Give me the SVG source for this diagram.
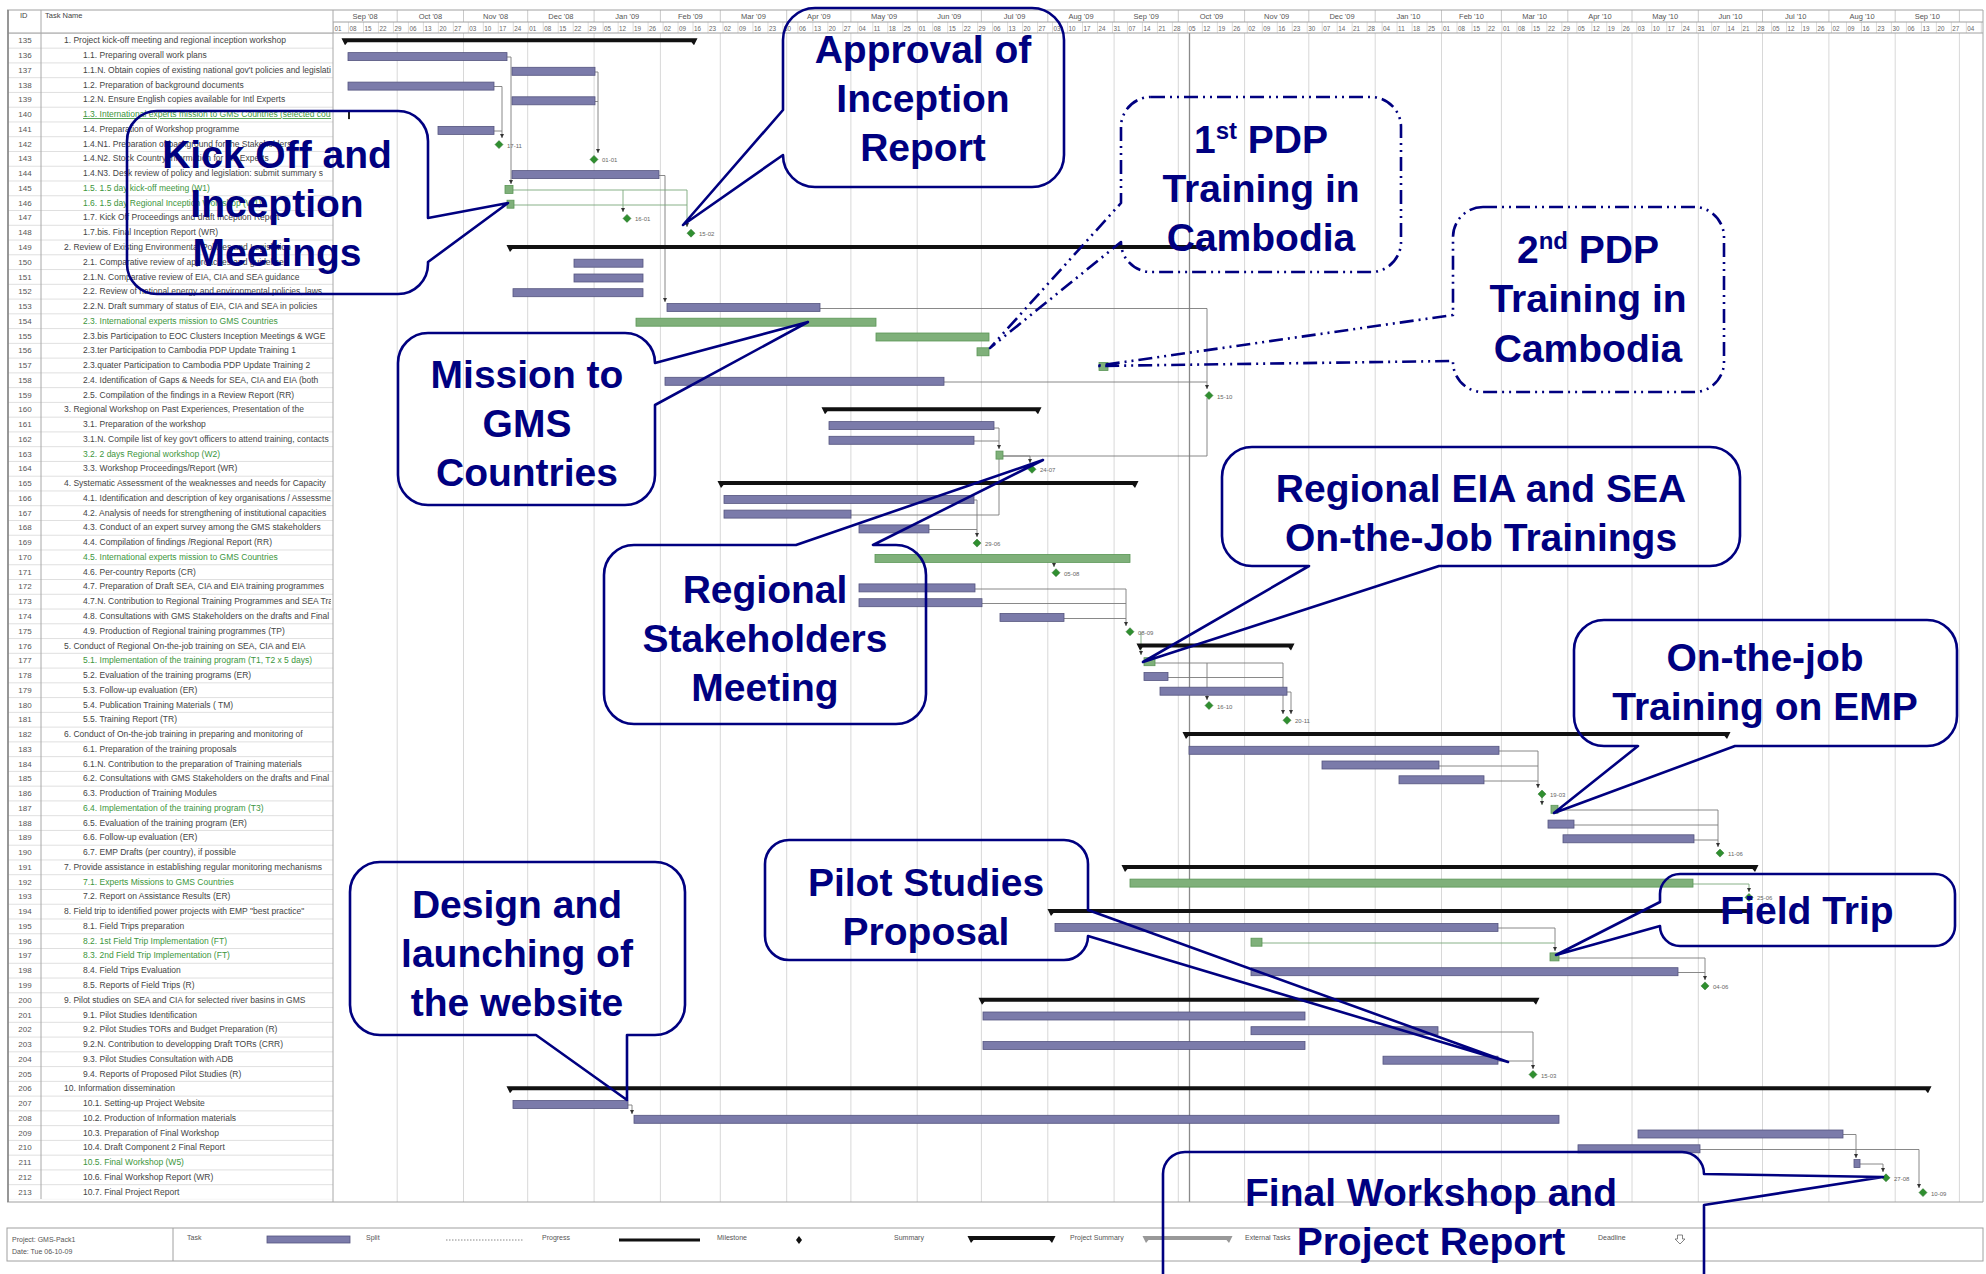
<svg xmlns="http://www.w3.org/2000/svg" xmlns:xlink="http://www.w3.org/1999/xlink" width="1986" height="1274" viewBox="0 0 1986 1274">
<defs>
<style>
text{font-family:"Liberation Sans",Arial,sans-serif}
.id{font-size:8px;fill:#555;text-anchor:middle}
.tn{font-size:8.5px;fill:#444;clip-path:url(#nc)}
.gr{fill:#3c963c}
.hd{font-size:7.5px;fill:#444}
.mo{font-size:7.5px;fill:#555;text-anchor:middle}
.dy{font-size:6.3px;fill:#666}
.bar{fill:#7b7baa;stroke:#55557f;stroke-width:0.8}
.gbar{fill:#7fb07a;stroke:#5a9656;stroke-width:0.8}
.sum{fill:#111}
.ml{font-size:6px;fill:#666}
.lnk{fill:none;stroke:#7c7c7c;stroke-width:0.9}
.glk{fill:none;stroke:#7aa87a;stroke-width:0.9}
.co{fill:none;stroke:#000080;stroke-width:2.6;stroke-linejoin:round}
.dd{stroke-dasharray:14 5 2 5 2 5}
.ct{font-size:39px;font-weight:bold;fill:#000080;text-anchor:middle}
.lg{font-size:7px;fill:#555}
</style>
<clipPath id="nc" clipPathUnits="userSpaceOnUse"><rect x="41" y="-8" width="290" height="16"/></clipPath>
<pattern id="rl" x="0" y="32.9" width="20" height="14.76" patternUnits="userSpaceOnUse"><rect width="20" height="0.7" fill="#d2d2d2"/></pattern>
<pattern id="wk" x="333" y="22" width="14.98" height="11" patternUnits="userSpaceOnUse"><rect width="0.6" height="11" fill="#c4c4c4"/></pattern>
<marker id="ah" viewBox="0 0 6 6" refX="6" refY="3" markerWidth="5" markerHeight="5" orient="auto"><path d="M0,0L6,3L0,6Z" fill="#333"/></marker>
<path id="ms" d="M0,-4L4,0L0,4L-4,0Z" fill="#2f8f2f" stroke="#246b24" stroke-width="0.5"/>
</defs>

<rect width="1986" height="1274" fill="#fff"/>

<!-- table frame and timescale -->
<g id="frame">
<rect x="8" y="32.9" width="325" height="1166.3" fill="url(#rl)"/>
<rect x="333" y="22" width="1650" height="11" fill="url(#wk)"/>
<path d="M397.2,33V1202M463.5,33V1202M527.7,33V1202M594.1,33V1202M660.4,33V1202M720.3,33V1202M786.7,33V1202M850.9,33V1202M917.2,33V1202M981.4,33V1202M1047.8,33V1202M1114.1,33V1202M1178.3,33V1202M1244.6,33V1202M1308.8,33V1202M1375.2,33V1202M1441.5,33V1202M1501.4,33V1202M1567.8,33V1202M1632,33V1202M1698.3,33V1202M1762.5,33V1202M1828.9,33V1202M1895.2,33V1202M1959.4,33V1202" stroke="#d8d8d8" stroke-width="1" fill="none"/>
<path d="M397.2,10V22M463.5,10V22M527.7,10V22M594.1,10V22M660.4,10V22M720.3,10V22M786.7,10V22M850.9,10V22M917.2,10V22M981.4,10V22M1047.8,10V22M1114.1,10V22M1178.3,10V22M1244.6,10V22M1308.8,10V22M1375.2,10V22M1441.5,10V22M1501.4,10V22M1567.8,10V22M1632,10V22M1698.3,10V22M1762.5,10V22M1828.9,10V22M1895.2,10V22M1959.4,10V22" stroke="#bbb" stroke-width="0.8" fill="none"/>
<path d="M1189.5,33V1202" stroke="#8a8a8a" stroke-width="1.3"/>
<path d="M7,10H1983M333,22H1983M8,33H1983M7,1202H1983" stroke="#a0a0a0" stroke-width="1" fill="none"/>
<path d="M8,10V1202M41,10V1199M333,10V1202M1983,10V1202" stroke="#a8a8a8" stroke-width="1" fill="none"/>
<path d="M8,10V1202" stroke="#888" stroke-width="1.6"/>
<text class="hd" x="20" y="18">ID</text>
<text class="hd" x="45" y="18">Task Name</text>
<g class="mo">
<text x="365.1" y="19">Sep '08</text><text x="430.4" y="19">Oct '08</text><text x="495.6" y="19">Nov '08</text><text x="560.9" y="19">Dec '08</text><text x="627.3" y="19">Jan '09</text><text x="690.4" y="19">Feb '09</text><text x="753.5" y="19">Mar '09</text><text x="818.8" y="19">Apr '09</text><text x="884.1" y="19">May '09</text><text x="949.3" y="19">Jun '09</text><text x="1014.6" y="19">Jul '09</text><text x="1081" y="19">Aug '09</text><text x="1146.2" y="19">Sep '09</text><text x="1211.5" y="19">Oct '09</text><text x="1276.7" y="19">Nov '09</text><text x="1342" y="19">Dec '09</text><text x="1408.4" y="19">Jan '10</text><text x="1471.5" y="19">Feb '10</text><text x="1534.6" y="19">Mar '10</text><text x="1599.9" y="19">Apr '10</text><text x="1665.2" y="19">May '10</text><text x="1730.4" y="19">Jun '10</text><text x="1795.7" y="19">Jul '10</text><text x="1862.1" y="19">Aug '10</text><text x="1927.3" y="19">Sep '10</text>
</g>
<text class="dy" y="30.5"><tspan x="334.5">01</tspan><tspan x="349.5">08</tspan><tspan x="364.5">15</tspan><tspan x="379.4">22</tspan><tspan x="394.4">29</tspan><tspan x="409.4">06</tspan><tspan x="424.4">13</tspan><tspan x="439.4">20</tspan><tspan x="454.3">27</tspan><tspan x="469.3">03</tspan><tspan x="484.3">10</tspan><tspan x="499.3">17</tspan><tspan x="514.3">24</tspan><tspan x="529.2">01</tspan><tspan x="544.2">08</tspan><tspan x="559.2">15</tspan><tspan x="574.2">22</tspan><tspan x="589.2">29</tspan><tspan x="604.1">05</tspan><tspan x="619.1">12</tspan><tspan x="634.1">19</tspan><tspan x="649.1">26</tspan><tspan x="664.1">02</tspan><tspan x="679">09</tspan><tspan x="694">16</tspan><tspan x="709">23</tspan><tspan x="724">02</tspan><tspan x="739">09</tspan><tspan x="753.9">16</tspan><tspan x="768.9">23</tspan><tspan x="783.9">30</tspan><tspan x="798.9">06</tspan><tspan x="813.9">13</tspan><tspan x="828.8">20</tspan><tspan x="843.8">27</tspan><tspan x="858.8">04</tspan><tspan x="873.8">11</tspan><tspan x="888.8">18</tspan><tspan x="903.7">25</tspan><tspan x="918.7">01</tspan><tspan x="933.7">08</tspan><tspan x="948.7">15</tspan><tspan x="963.7">22</tspan><tspan x="978.6">29</tspan><tspan x="993.6">06</tspan><tspan x="1008.6">13</tspan><tspan x="1023.6">20</tspan><tspan x="1038.6">27</tspan><tspan x="1053.5">03</tspan><tspan x="1068.5">10</tspan><tspan x="1083.5">17</tspan><tspan x="1098.5">24</tspan><tspan x="1113.5">31</tspan><tspan x="1128.4">07</tspan><tspan x="1143.4">14</tspan><tspan x="1158.4">21</tspan><tspan x="1173.4">28</tspan><tspan x="1188.4">05</tspan><tspan x="1203.3">12</tspan><tspan x="1218.3">19</tspan><tspan x="1233.3">26</tspan><tspan x="1248.3">02</tspan><tspan x="1263.3">09</tspan><tspan x="1278.2">16</tspan><tspan x="1293.2">23</tspan><tspan x="1308.2">30</tspan><tspan x="1323.2">07</tspan><tspan x="1338.2">14</tspan><tspan x="1353.1">21</tspan><tspan x="1368.1">28</tspan><tspan x="1383.1">04</tspan><tspan x="1398.1">11</tspan><tspan x="1413.1">18</tspan><tspan x="1428">25</tspan><tspan x="1443">01</tspan><tspan x="1458">08</tspan><tspan x="1473">15</tspan><tspan x="1488">22</tspan><tspan x="1502.9">01</tspan><tspan x="1517.9">08</tspan><tspan x="1532.9">15</tspan><tspan x="1547.9">22</tspan><tspan x="1562.9">29</tspan><tspan x="1577.8">05</tspan><tspan x="1592.8">12</tspan><tspan x="1607.8">19</tspan><tspan x="1622.8">26</tspan><tspan x="1637.8">03</tspan><tspan x="1652.7">10</tspan><tspan x="1667.7">17</tspan><tspan x="1682.7">24</tspan><tspan x="1697.7">31</tspan><tspan x="1712.7">07</tspan><tspan x="1727.6">14</tspan><tspan x="1742.6">21</tspan><tspan x="1757.6">28</tspan><tspan x="1772.6">05</tspan><tspan x="1787.6">12</tspan><tspan x="1802.5">19</tspan><tspan x="1817.5">26</tspan><tspan x="1832.5">02</tspan><tspan x="1847.5">09</tspan><tspan x="1862.5">16</tspan><tspan x="1877.4">23</tspan><tspan x="1892.4">30</tspan><tspan x="1907.4">06</tspan><tspan x="1922.4">13</tspan><tspan x="1937.4">20</tspan><tspan x="1952.3">27</tspan><tspan x="1967.3">04</tspan></text>
</g>

<!-- dependency links -->
<g id="links">
<path class="lnk" d="M507,57H511V184" marker-end="url(#ah)"/>
<path class="lnk" d="M494,86.5H502V138" marker-end="url(#ah)"/>
<path class="lnk" d="M494,131H502"/>
<path class="lnk" d="M595,72H598V153" marker-end="url(#ah)"/>
<path class="lnk" d="M595,101.5H598"/>
<path class="lnk" d="M659,175.5H665V302" marker-end="url(#ah)"/>
<path class="glk" d="M513,190H687V227" marker-end="url(#ah)"/>
<path class="glk" d="M514,205H687"/>
<path class="glk" d="M623,190V212" marker-end="url(#ah)"/>
<path class="lnk" d="M820,308.5H1207V389" marker-end="url(#ah)"/>
<path class="lnk" d="M944,382H1207"/>
<path class="lnk" d="M1003,456H1207V398"/>
<path class="lnk" d="M994,428H999V449" marker-end="url(#ah)"/>
<path class="lnk" d="M974,441H999"/>
<path class="lnk" d="M1003,456H1030V463" marker-end="url(#ah)"/>
<path class="lnk" d="M974,500H977V537" marker-end="url(#ah)"/>
<path class="lnk" d="M929,529.5H977"/>
<path class="lnk" d="M851,515H999V458"/>
<path class="glk" d="M1054,561V567" marker-end="url(#ah)"/>
<path class="lnk" d="M975,589H1126V626" marker-end="url(#ah)"/>
<path class="lnk" d="M982,603.5H1126"/>
<path class="lnk" d="M1064,618.5H1126"/>
<path class="glk" d="M1141,632V655" marker-end="url(#ah)"/>
<path class="lnk" d="M1155,663H1283V714" marker-end="url(#ah)"/>
<path class="lnk" d="M1168,677.5H1283"/>
<path class="lnk" d="M1207,663V700" marker-end="url(#ah)"/>
<path class="lnk" d="M1287,692H1291V714" marker-end="url(#ah)"/>
<path class="lnk" d="M1499,751H1538V788" marker-end="url(#ah)"/>
<path class="lnk" d="M1439,766H1538"/>
<path class="lnk" d="M1484,781H1538"/>
<path class="glk" d="M1542,797V805" marker-end="url(#ah)"/>
<path class="lnk" d="M1558,810H1718V847" marker-end="url(#ah)"/>
<path class="lnk" d="M1574,825H1718"/>
<path class="lnk" d="M1694,840H1718"/>
<path class="glk" d="M1693,884H1749V892" marker-end="url(#ah)"/>
<path class="lnk" d="M1498,928H1555V951" marker-end="url(#ah)"/>
<path class="glk" d="M1262,943H1555"/>
<path class="lnk" d="M1559,958H1705V980" marker-end="url(#ah)"/>
<path class="lnk" d="M1678,972.5H1705"/>
<path class="lnk" d="M1438,1032H1533V1069" marker-end="url(#ah)"/>
<path class="lnk" d="M1498,1061H1533"/>
<path class="lnk" d="M628,1105H632V1114" marker-end="url(#ah)"/>
<path class="lnk" d="M1843,1134.5H1856V1158" marker-end="url(#ah)"/>
<path class="lnk" d="M1700,1149.5H1919V1188" marker-end="url(#ah)"/>
<path class="lnk" d="M1860,1164H1883V1172" marker-end="url(#ah)"/>
</g>

<!-- task rows -->
<g id="tasks">
<g id="t135" transform="translate(0,40.3)"><text class="id" x="25" y="3">135</text><text class="tn" x="64" y="3">1. Project kick-off meeting and regional inception workshop</text><path class="sum" d="M341.5,-2H697.5L694,5L691.5,2H347.5L345,5Z"/></g>
<g id="t136" transform="translate(0,55.1)"><text class="id" x="25" y="3">136</text><text class="tn" x="83" y="3">1.1. Preparing overall work plans</text><rect class="bar" x="348" y="-2.5" width="159" height="8"/></g>
<g id="t137" transform="translate(0,69.8)"><text class="id" x="25" y="3">137</text><text class="tn" x="83" y="3">1.1.N. Obtain copies of existing national gov't policies and legislation</text><rect class="bar" x="512" y="-2.5" width="83" height="8"/></g>
<g id="t138" transform="translate(0,84.6)"><text class="id" x="25" y="3">138</text><text class="tn" x="83" y="3">1.2. Preparation of background documents</text><rect class="bar" x="348" y="-2.5" width="146" height="8"/></g>
<g id="t139" transform="translate(0,99.3)"><text class="id" x="25" y="3">139</text><text class="tn" x="83" y="3">1.2.N. Ensure English copies available for Intl Experts</text><rect class="bar" x="512" y="-2.5" width="83" height="8"/></g>
<g id="t140" transform="translate(0,114.1)"><text class="id" x="25" y="3">140</text><text class="tn gr" x="83" y="3" text-decoration="underline">1.3. International experts mission to GMS Countries (selected countries)</text><rect x="348" y="-3" width="2" height="8" fill="#222"/></g>
<g id="t141" transform="translate(0,128.9)"><text class="id" x="25" y="3">141</text><text class="tn" x="83" y="3">1.4. Preparation of Workshop programme</text><rect class="bar" x="438" y="-2.5" width="56" height="8"/></g>
<g id="t142" transform="translate(0,143.6)"><text class="id" x="25" y="3">142</text><text class="tn" x="83" y="3">1.4.N1. Preparation of background for the Stakeholders</text><use xlink:href="#ms" x="499" y="1"/><text class="ml" x="507" y="4">17-11</text></g>
<g id="t143" transform="translate(0,158.4)"><text class="id" x="25" y="3">143</text><text class="tn" x="83" y="3">1.4.N2. Stock Country Information for the Experts</text><use xlink:href="#ms" x="594" y="1"/><text class="ml" x="602" y="4">01-01</text></g>
<g id="t144" transform="translate(0,173.1)"><text class="id" x="25" y="3">144</text><text class="tn" x="83" y="3">1.4.N3. Desk review of policy and legislation: submit summary s</text><rect class="bar" x="512" y="-2.5" width="147" height="8"/></g>
<g id="t145" transform="translate(0,187.9)"><text class="id" x="25" y="3">145</text><text class="tn gr" x="83" y="3">1.5. 1.5 day kick-off meeting (W1)</text><rect class="gbar" x="505" y="-2.5" width="8" height="8"/></g>
<g id="t146" transform="translate(0,202.7)"><text class="id" x="25" y="3">146</text><text class="tn gr" x="83" y="3">1.6. 1.5 day Regional Inception Workshop (W1)</text><rect class="gbar" x="507" y="-2.5" width="7" height="8"/></g>
<g id="t147" transform="translate(0,217.4)"><text class="id" x="25" y="3">147</text><text class="tn" x="83" y="3">1.7. Kick Off Proceedings and draft Inception Report</text><use xlink:href="#ms" x="627" y="1"/><text class="ml" x="635" y="4">16-01</text></g>
<g id="t148" transform="translate(0,232.2)"><text class="id" x="25" y="3">148</text><text class="tn" x="83" y="3">1.7.bis. Final Inception Report (WR)</text><use xlink:href="#ms" x="691" y="1"/><text class="ml" x="699" y="4">15-02</text></g>
<g id="t149" transform="translate(0,246.9)"><text class="id" x="25" y="3">149</text><text class="tn" x="64" y="3">2. Review of Existing Environmental Policies and Legislation</text><path class="sum" d="M506.5,-2H1206.5L1203,5L1200.5,2H512.5L510,5Z"/></g>
<g id="t150" transform="translate(0,261.7)"><text class="id" x="25" y="3">150</text><text class="tn" x="83" y="3">2.1. Comparative review of approaches and guidelines</text><rect class="bar" x="574" y="-2.5" width="69" height="8"/></g>
<g id="t151" transform="translate(0,276.5)"><text class="id" x="25" y="3">151</text><text class="tn" x="83" y="3">2.1.N. Comparative review of EIA, CIA and SEA guidance</text><rect class="bar" x="574" y="-2.5" width="69" height="8"/></g>
<g id="t152" transform="translate(0,291.2)"><text class="id" x="25" y="3">152</text><text class="tn" x="83" y="3">2.2. Review of national energy and environmental policies, laws</text><rect class="bar" x="513" y="-2.5" width="130" height="8"/></g>
<g id="t153" transform="translate(0,306)"><text class="id" x="25" y="3">153</text><text class="tn" x="83" y="3">2.2.N. Draft summary of status of EIA, CIA and SEA in policies</text><rect class="bar" x="667" y="-2.5" width="153" height="8"/></g>
<g id="t154" transform="translate(0,320.7)"><text class="id" x="25" y="3">154</text><text class="tn gr" x="83" y="3">2.3. International experts mission to GMS Countries</text><rect class="gbar" x="636" y="-2.5" width="240" height="8"/></g>
<g id="t155" transform="translate(0,335.5)"><text class="id" x="25" y="3">155</text><text class="tn" x="83" y="3">2.3.bis Participation to EOC Clusters Inception Meetings &amp; WGE</text><rect class="gbar" x="876" y="-2.5" width="113" height="8"/></g>
<g id="t156" transform="translate(0,350.3)"><text class="id" x="25" y="3">156</text><text class="tn" x="83" y="3">2.3.ter Participation to Cambodia PDP Update Training 1</text><rect class="gbar" x="977" y="-2.5" width="12" height="8"/></g>
<g id="t157" transform="translate(0,365)"><text class="id" x="25" y="3">157</text><text class="tn" x="83" y="3">2.3.quater Participation to Cambodia PDP Update Training 2</text><rect class="gbar" x="1099" y="-2.5" width="9" height="8"/></g>
<g id="t158" transform="translate(0,379.8)"><text class="id" x="25" y="3">158</text><text class="tn" x="83" y="3">2.4. Identification of Gaps &amp; Needs for SEA, CIA and EIA (both</text><rect class="bar" x="665" y="-2.5" width="279" height="8"/></g>
<g id="t159" transform="translate(0,394.5)"><text class="id" x="25" y="3">159</text><text class="tn" x="83" y="3">2.5. Compilation of the findings in a Review Report (RR)</text><use xlink:href="#ms" x="1209" y="1"/><text class="ml" x="1217" y="4">15-10</text></g>
<g id="t160" transform="translate(0,409.3)"><text class="id" x="25" y="3">160</text><text class="tn" x="64" y="3">3. Regional Workshop on Past Experiences, Presentation of the</text><path class="sum" d="M821.5,-2H1041.5L1038,5L1035.5,2H827.5L825,5Z"/></g>
<g id="t161" transform="translate(0,424.1)"><text class="id" x="25" y="3">161</text><text class="tn" x="83" y="3">3.1. Preparation of the workshop</text><rect class="bar" x="829" y="-2.5" width="165" height="8"/></g>
<g id="t162" transform="translate(0,438.8)"><text class="id" x="25" y="3">162</text><text class="tn" x="83" y="3">3.1.N. Compile list of key gov't officers to attend training, contacts</text><rect class="bar" x="829" y="-2.5" width="145" height="8"/></g>
<g id="t163" transform="translate(0,453.6)"><text class="id" x="25" y="3">163</text><text class="tn gr" x="83" y="3">3.2. 2 days Regional workshop (W2)</text><rect class="gbar" x="996" y="-2.5" width="7" height="8"/></g>
<g id="t164" transform="translate(0,468.3)"><text class="id" x="25" y="3">164</text><text class="tn" x="83" y="3">3.3. Workshop Proceedings/Report (WR)</text><use xlink:href="#ms" x="1032" y="1"/><text class="ml" x="1040" y="4">24-07</text></g>
<g id="t165" transform="translate(0,483.1)"><text class="id" x="25" y="3">165</text><text class="tn" x="64" y="3">4. Systematic Assessment of the weaknesses and needs for Capacity</text><path class="sum" d="M717.5,-2H1138.5L1135,5L1132.5,2H723.5L721,5Z"/></g>
<g id="t166" transform="translate(0,497.9)"><text class="id" x="25" y="3">166</text><text class="tn" x="83" y="3">4.1. Identification and description of key organisations / Assessment</text><rect class="bar" x="724" y="-2.5" width="250" height="8"/></g>
<g id="t167" transform="translate(0,512.6)"><text class="id" x="25" y="3">167</text><text class="tn" x="83" y="3">4.2. Analysis of needs for strengthening of institutional capacities</text><rect class="bar" x="724" y="-2.5" width="127" height="8"/></g>
<g id="t168" transform="translate(0,527.4)"><text class="id" x="25" y="3">168</text><text class="tn" x="83" y="3">4.3. Conduct of an expert survey among the GMS stakeholders</text><rect class="bar" x="859" y="-2.5" width="70" height="8"/></g>
<g id="t169" transform="translate(0,542.1)"><text class="id" x="25" y="3">169</text><text class="tn" x="83" y="3">4.4. Compilation of findings /Regional Report (RR)</text><use xlink:href="#ms" x="977" y="1"/><text class="ml" x="985" y="4">29-06</text></g>
<g id="t170" transform="translate(0,556.9)"><text class="id" x="25" y="3">170</text><text class="tn gr" x="83" y="3">4.5. International experts mission to GMS Countries</text><rect class="gbar" x="875" y="-2.5" width="255" height="8"/></g>
<g id="t171" transform="translate(0,571.7)"><text class="id" x="25" y="3">171</text><text class="tn" x="83" y="3">4.6. Per-country Reports (CR)</text><use xlink:href="#ms" x="1056" y="1"/><text class="ml" x="1064" y="4">05-08</text></g>
<g id="t172" transform="translate(0,586.4)"><text class="id" x="25" y="3">172</text><text class="tn" x="83" y="3">4.7. Preparation of Draft  SEA, CIA and EIA training programmes</text><rect class="bar" x="859" y="-2.5" width="116" height="8"/></g>
<g id="t173" transform="translate(0,601.2)"><text class="id" x="25" y="3">173</text><text class="tn" x="83" y="3">4.7.N. Contribution to Regional Training Programmes and SEA Training</text><rect class="bar" x="859" y="-2.5" width="123" height="8"/></g>
<g id="t174" transform="translate(0,615.9)"><text class="id" x="25" y="3">174</text><text class="tn" x="83" y="3">4.8. Consultations with GMS Stakeholders on the drafts and Final</text><rect class="bar" x="1000" y="-2.5" width="64" height="8"/></g>
<g id="t175" transform="translate(0,630.7)"><text class="id" x="25" y="3">175</text><text class="tn" x="83" y="3">4.9. Production of Regional training programmes (TP)</text><use xlink:href="#ms" x="1130" y="1"/><text class="ml" x="1138" y="4">08-09</text></g>
<g id="t176" transform="translate(0,645.5)"><text class="id" x="25" y="3">176</text><text class="tn" x="64" y="3">5. Conduct of Regional On-the-job training on SEA, CIA and EIA</text><path class="sum" d="M1136.5,-2H1294.5L1291,5L1288.5,2H1142.5L1140,5Z"/></g>
<g id="t177" transform="translate(0,660.2)"><text class="id" x="25" y="3">177</text><text class="tn gr" x="83" y="3">5.1. Implementation of the training program (T1, T2 x 5 days)</text><rect class="gbar" x="1144" y="-2.5" width="11" height="8"/></g>
<g id="t178" transform="translate(0,675)"><text class="id" x="25" y="3">178</text><text class="tn" x="83" y="3">5.2. Evaluation of the training programs (ER)</text><rect class="bar" x="1144" y="-2.5" width="24" height="8"/></g>
<g id="t179" transform="translate(0,689.7)"><text class="id" x="25" y="3">179</text><text class="tn" x="83" y="3">5.3. Follow-up evaluation (ER)</text><rect class="bar" x="1160" y="-2.5" width="127" height="8"/></g>
<g id="t180" transform="translate(0,704.5)"><text class="id" x="25" y="3">180</text><text class="tn" x="83" y="3">5.4. Publication Training Materials ( TM)</text><use xlink:href="#ms" x="1209" y="1"/><text class="ml" x="1217" y="4">16-10</text></g>
<g id="t181" transform="translate(0,719.3)"><text class="id" x="25" y="3">181</text><text class="tn" x="83" y="3">5.5. Training Report (TR)</text><use xlink:href="#ms" x="1287" y="1"/><text class="ml" x="1295" y="4">20-11</text></g>
<g id="t182" transform="translate(0,734)"><text class="id" x="25" y="3">182</text><text class="tn" x="64" y="3">6. Conduct of On-the-job training in preparing and monitoring of</text><path class="sum" d="M1182.5,-2H1730.5L1727,5L1724.5,2H1188.5L1186,5Z"/></g>
<g id="t183" transform="translate(0,748.8)"><text class="id" x="25" y="3">183</text><text class="tn" x="83" y="3">6.1. Preparation of the training proposals</text><rect class="bar" x="1189" y="-2.5" width="310" height="8"/></g>
<g id="t184" transform="translate(0,763.5)"><text class="id" x="25" y="3">184</text><text class="tn" x="83" y="3">6.1.N. Contribution to the preparation of Training materials</text><rect class="bar" x="1322" y="-2.5" width="117" height="8"/></g>
<g id="t185" transform="translate(0,778.3)"><text class="id" x="25" y="3">185</text><text class="tn" x="83" y="3">6.2. Consultations with GMS Stakeholders on the drafts and Final</text><rect class="bar" x="1399" y="-2.5" width="85" height="8"/></g>
<g id="t186" transform="translate(0,793.1)"><text class="id" x="25" y="3">186</text><text class="tn" x="83" y="3">6.3. Production of Training Modules</text><use xlink:href="#ms" x="1542" y="1"/><text class="ml" x="1550" y="4">19-03</text></g>
<g id="t187" transform="translate(0,807.8)"><text class="id" x="25" y="3">187</text><text class="tn gr" x="83" y="3">6.4. Implementation of the training program (T3)</text><rect class="gbar" x="1551" y="-2.5" width="7" height="8"/></g>
<g id="t188" transform="translate(0,822.6)"><text class="id" x="25" y="3">188</text><text class="tn" x="83" y="3">6.5. Evaluation of the training program (ER)</text><rect class="bar" x="1548" y="-2.5" width="26" height="8"/></g>
<g id="t189" transform="translate(0,837.3)"><text class="id" x="25" y="3">189</text><text class="tn" x="83" y="3">6.6. Follow-up evaluation (ER)</text><rect class="bar" x="1563" y="-2.5" width="131" height="8"/></g>
<g id="t190" transform="translate(0,852.1)"><text class="id" x="25" y="3">190</text><text class="tn" x="83" y="3">6.7. EMP Drafts (per country), if possible</text><use xlink:href="#ms" x="1720" y="1"/><text class="ml" x="1728" y="4">11-06</text></g>
<g id="t191" transform="translate(0,866.9)"><text class="id" x="25" y="3">191</text><text class="tn" x="64" y="3">7. Provide assistance in establishing regular monitoring mechanisms</text><path class="sum" d="M1121.5,-2H1758.5L1755,5L1752.5,2H1127.5L1125,5Z"/></g>
<g id="t192" transform="translate(0,881.6)"><text class="id" x="25" y="3">192</text><text class="tn gr" x="83" y="3">7.1. Experts Missions to GMS Countries</text><rect class="gbar" x="1130" y="-2.5" width="563" height="8"/></g>
<g id="t193" transform="translate(0,896.4)"><text class="id" x="25" y="3">193</text><text class="tn" x="83" y="3">7.2. Report on Assistance Results (ER)</text><use xlink:href="#ms" x="1749" y="1"/><text class="ml" x="1757" y="4">25-06</text></g>
<g id="t194" transform="translate(0,911.1)"><text class="id" x="25" y="3">194</text><text class="tn" x="64" y="3">8. Field trip to identified power projects with EMP "best practice"</text><path class="sum" d="M1047.5,-2H1752.5L1749,5L1746.5,2H1053.5L1051,5Z"/></g>
<g id="t195" transform="translate(0,925.9)"><text class="id" x="25" y="3">195</text><text class="tn" x="83" y="3">8.1. Field Trips preparation</text><rect class="bar" x="1055" y="-2.5" width="443" height="8"/></g>
<g id="t196" transform="translate(0,940.7)"><text class="id" x="25" y="3">196</text><text class="tn gr" x="83" y="3">8.2. 1st Field Trip Implementation (FT)</text><rect class="gbar" x="1251" y="-2.5" width="11" height="8"/></g>
<g id="t197" transform="translate(0,955.4)"><text class="id" x="25" y="3">197</text><text class="tn gr" x="83" y="3">8.3. 2nd Field Trip Implementation (FT)</text><rect class="gbar" x="1550" y="-2.5" width="9" height="8"/></g>
<g id="t198" transform="translate(0,970.2)"><text class="id" x="25" y="3">198</text><text class="tn" x="83" y="3">8.4. Field Trips Evaluation</text><rect class="bar" x="1251" y="-2.5" width="427" height="8"/></g>
<g id="t199" transform="translate(0,984.9)"><text class="id" x="25" y="3">199</text><text class="tn" x="83" y="3">8.5. Reports of Field Trips (R)</text><use xlink:href="#ms" x="1705" y="1"/><text class="ml" x="1713" y="4">04-06</text></g>
<g id="t200" transform="translate(0,999.7)"><text class="id" x="25" y="3">200</text><text class="tn" x="64" y="3">9. Pilot studies on SEA and CIA for selected river basins in GMS</text><path class="sum" d="M978.5,-2H1539.5L1536,5L1533.5,2H984.5L982,5Z"/></g>
<g id="t201" transform="translate(0,1014.5)"><text class="id" x="25" y="3">201</text><text class="tn" x="83" y="3">9.1. Pilot Studies Identification</text><rect class="bar" x="983" y="-2.5" width="322" height="8"/></g>
<g id="t202" transform="translate(0,1029.2)"><text class="id" x="25" y="3">202</text><text class="tn" x="83" y="3">9.2. Pilot Studies TORs and Budget Preparation (R)</text><rect class="bar" x="1251" y="-2.5" width="187" height="8"/></g>
<g id="t203" transform="translate(0,1044)"><text class="id" x="25" y="3">203</text><text class="tn" x="83" y="3">9.2.N. Contribution to developping Draft TORs (CRR)</text><rect class="bar" x="983" y="-2.5" width="322" height="8"/></g>
<g id="t204" transform="translate(0,1058.7)"><text class="id" x="25" y="3">204</text><text class="tn" x="83" y="3">9.3. Pilot Studies Consultation with ADB</text><rect class="bar" x="1383" y="-2.5" width="115" height="8"/></g>
<g id="t205" transform="translate(0,1073.5)"><text class="id" x="25" y="3">205</text><text class="tn" x="83" y="3">9.4. Reports of Proposed Pilot Studies (R)</text><use xlink:href="#ms" x="1533" y="1"/><text class="ml" x="1541" y="4">15-03</text></g>
<g id="t206" transform="translate(0,1088.3)"><text class="id" x="25" y="3">206</text><text class="tn" x="64" y="3">10. Information dissemination</text><path class="sum" d="M506.5,-2H1931.5L1928,5L1925.5,2H512.5L510,5Z"/></g>
<g id="t207" transform="translate(0,1103)"><text class="id" x="25" y="3">207</text><text class="tn" x="83" y="3">10.1. Setting-up Project Website</text><rect class="bar" x="513" y="-2.5" width="115" height="8"/></g>
<g id="t208" transform="translate(0,1117.8)"><text class="id" x="25" y="3">208</text><text class="tn" x="83" y="3">10.2. Production of Information materials</text><rect class="bar" x="634" y="-2.5" width="925" height="8"/></g>
<g id="t209" transform="translate(0,1132.5)"><text class="id" x="25" y="3">209</text><text class="tn" x="83" y="3">10.3. Preparation of Final Workshop</text><rect class="bar" x="1638" y="-2.5" width="205" height="8"/></g>
<g id="t210" transform="translate(0,1147.3)"><text class="id" x="25" y="3">210</text><text class="tn" x="83" y="3">10.4. Draft Component 2 Final Report</text><rect class="bar" x="1578" y="-2.5" width="122" height="8"/></g>
<g id="t211" transform="translate(0,1162.1)"><text class="id" x="25" y="3">211</text><text class="tn gr" x="83" y="3">10.5. Final Workshop (W5)</text><rect class="bar" x="1854" y="-2.5" width="6" height="8"/></g>
<g id="t212" transform="translate(0,1176.8)"><text class="id" x="25" y="3">212</text><text class="tn" x="83" y="3">10.6. Final Workshop Report (WR)</text><use xlink:href="#ms" x="1886" y="1"/><text class="ml" x="1894" y="4">27-08</text></g>
<g id="t213" transform="translate(0,1191.6)"><text class="id" x="25" y="3">213</text><text class="tn" x="83" y="3">10.7. Final Project Report</text><use xlink:href="#ms" x="1923" y="1"/><text class="ml" x="1931" y="4">10-09</text></g>
</g>

<!-- legend strip -->
<g id="legend">
<rect x="7" y="1228" width="1976" height="33" fill="#fff" stroke="#a0a0a0"/>
<line x1="173" y1="1228" x2="173" y2="1261" stroke="#a0a0a0"/>
<text class="lg" x="12" y="1242">Project: GMS-Pack1</text>
<text class="lg" x="12" y="1254">Date: Tue 06-10-09</text>
<text class="lg" x="187" y="1240">Task</text>
<rect class="bar" x="267" y="1236" width="83" height="7"/>
<text class="lg" x="366" y="1240">Split</text>
<line x1="446" y1="1240" x2="523" y2="1240" stroke="#888" stroke-dasharray="1.5 1.5"/>
<text class="lg" x="542" y="1240">Progress</text>
<rect x="619" y="1238.5" width="81" height="3" fill="#111"/>
<text class="lg" x="717" y="1240">Milestone</text>
<path d="M799,1236L802,1240L799,1244L796,1240Z" fill="#111"/>
<text class="lg" x="894" y="1240">Summary</text>
<path class="sum" d="M967.5,1236H1055.5L1052,1243L1049.5,1240H973.5L971,1243Z"/>
<text class="lg" x="1070" y="1240">Project Summary</text>
<path d="M1142.5,1236H1232.5L1229,1243L1226.5,1240H1148.5L1146,1243Z" fill="#999"/>
<text class="lg" x="1245" y="1240">External Tasks</text>
<text class="lg" x="1598" y="1240">Deadline</text>
<path d="M1677.5,1235H1682.5V1239H1685L1680,1244L1675,1239H1677.5Z" fill="none" stroke="#666" stroke-width="0.8"/>
</g>

<!-- callouts -->
<g id="c-kickoff">
<path class="co" d="M157,111H398A30,30 0 0 1 428,141V218L508,203L428,262V264A30,30 0 0 1 398,294H157A30,30 0 0 1 127,264V141A30,30 0 0 1 157,111Z"/>
<text class="ct"><tspan x="277" y="168">Kick Off and</tspan><tspan x="277" y="217">Inception</tspan><tspan x="277" y="266">Meetings</tspan></text>
</g>
<g id="c-approval">
<path class="co" d="M815,8H1032A32,32 0 0 1 1064,40V155A32,32 0 0 1 1032,187H815A32,32 0 0 1 783,155L683,225L783,110V40A32,32 0 0 1 815,8Z"/>
<text class="ct"><tspan x="923" y="63">Approval of</tspan><tspan x="923" y="112">Inception</tspan><tspan x="923" y="161">Report</tspan></text>
</g>
<g id="c-pdp1">
<path class="co dd" d="M1151,97H1371A30,30 0 0 1 1401,127V242A30,30 0 0 1 1371,272H1151A30,30 0 0 1 1121,242L990,348L1121,203V127A30,30 0 0 1 1151,97Z"/>
<text class="ct"><tspan x="1261" y="153">1<tspan font-size="24" dy="-14">st</tspan><tspan dy="14"> PDP</tspan></tspan><tspan x="1261" y="202">Training in</tspan><tspan x="1261" y="251">Cambodia</tspan></text>
</g>
<g id="c-pdp2">
<path class="co dd" d="M1483,207H1694A30,30 0 0 1 1724,237V362A30,30 0 0 1 1694,392H1483A30,30 0 0 1 1453,362V361L1096,366L1453,315V237A30,30 0 0 1 1483,207Z"/>
<text class="ct"><tspan x="1588" y="263">2<tspan font-size="24" dy="-14">nd</tspan><tspan dy="14"> PDP</tspan></tspan><tspan x="1588" y="312">Training in</tspan><tspan x="1588" y="362">Cambodia</tspan></text>
</g>
<g id="c-mission">
<path class="co" d="M428,333H625A30,30 0 0 1 655,363L808,322L655,405V475A30,30 0 0 1 625,505H428A30,30 0 0 1 398,475V363A30,30 0 0 1 428,333Z"/>
<text class="ct"><tspan x="527" y="388">Mission to</tspan><tspan x="527" y="437">GMS</tspan><tspan x="527" y="486">Countries</tspan></text>
</g>
<g id="c-stakeholders">
<path class="co" d="M634,545H796L1043,460L873,545H896A30,30 0 0 1 926,575V694A30,30 0 0 1 896,724H634A30,30 0 0 1 604,694V575A30,30 0 0 1 634,545Z"/>
<text class="ct"><tspan x="765" y="603">Regional</tspan><tspan x="765" y="652">Stakeholders</tspan><tspan x="765" y="701">Meeting</tspan></text>
</g>
<g id="c-regional">
<path class="co" d="M1252,447H1710A30,30 0 0 1 1740,477V536A30,30 0 0 1 1710,566H1439L1143,662L1309,566H1252A30,30 0 0 1 1222,536V477A30,30 0 0 1 1252,447Z"/>
<text class="ct"><tspan x="1481" y="502">Regional EIA and SEA</tspan><tspan x="1481" y="551">On-the-Job Trainings</tspan></text>
</g>
<g id="c-emp">
<path class="co" d="M1604,620H1927A30,30 0 0 1 1957,650V716A30,30 0 0 1 1927,746H1735L1554,813L1638,746H1604A30,30 0 0 1 1574,716V650A30,30 0 0 1 1604,620Z"/>
<text class="ct"><tspan x="1765" y="671">On-the-job</tspan><tspan x="1765" y="720">Training on EMP</tspan></text>
</g>
<g id="c-pilot">
<path class="co" d="M789,840H1064A24,24 0 0 1 1088,864V910L1508,1062L1088,936A24,24 0 0 1 1064,960H789A24,24 0 0 1 765,936V864A24,24 0 0 1 789,840Z"/>
<text class="ct"><tspan x="926" y="896">Pilot Studies</tspan><tspan x="926" y="945">Proposal</tspan></text>
</g>
<g id="c-field">
<path class="co" d="M1680,874H1935A20,20 0 0 1 1955,894V926A20,20 0 0 1 1935,946H1680A20,20 0 0 1 1660,926L1556,955L1660,902V894A20,20 0 0 1 1680,874Z"/>
<text class="ct"><tspan x="1807" y="924">Field Trip</tspan></text>
</g>
<g id="c-website">
<path class="co" d="M380,862H655A30,30 0 0 1 685,892V1005A30,30 0 0 1 655,1035H627L627,1100L536,1035H380A30,30 0 0 1 350,1005V892A30,30 0 0 1 380,862Z"/>
<text class="ct"><tspan x="517" y="918">Design and</tspan><tspan x="517" y="967">launching of</tspan><tspan x="517" y="1016">the website</tspan></text>
</g>
<g id="c-final">
<path class="co" d="M1185,1152H1682A22,22 0 0 1 1704,1174L1883,1177L1704,1205V1300H1163V1174A22,22 0 0 1 1185,1152Z"/>
<text class="ct"><tspan x="1431" y="1206">Final Workshop and</tspan><tspan x="1431" y="1255">Project Report</tspan></text>
</g>
</svg>
